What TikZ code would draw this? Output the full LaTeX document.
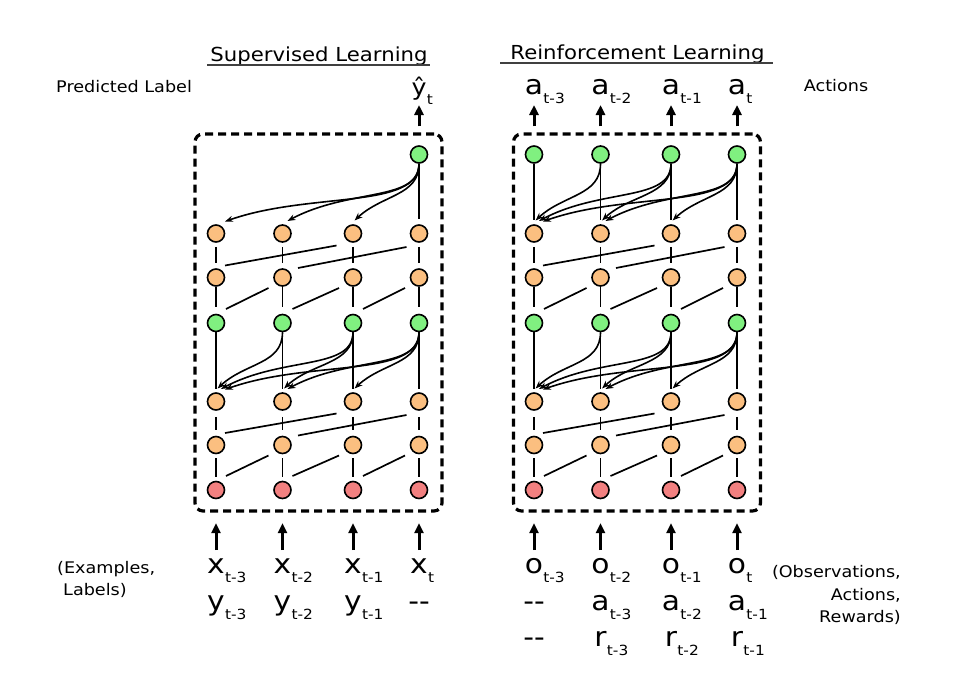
\documentclass[tikz,border=0pt]{standalone}
\usepackage{fontspec}
\setmainfont{DejaVu Sans}[FakeStretch=1.1]
\usetikzlibrary{arrows.meta}
\definecolor{ngreen}{RGB}{128,240,128}
\definecolor{norange}{RGB}{251,191,128}
\definecolor{nred}{RGB}{242,128,128}
\newcommand\bigsub[2]{#1\rlap{\kern0.3pt\raisebox{-9pt}{\fontsize{14}{14}\selectfont #2}}}
\begin{document}
\begin{tikzpicture}[x=1pt,y=-1pt,
  nodebase/.style={circle, draw, line width=1.6pt, minimum size=17pt, inner sep=0pt},
  gn/.style={nodebase, fill=ngreen},
  on/.style={nodebase, fill=norange},
  rn/.style={nodebase, fill=nred},
  conn/.style={line width=1.7pt},
  curv/.style={line width=1.6pt, -{Stealth[length=8pt,width=6pt]}},
  bigarrow/.style={line width=3pt, -{Triangle[length=10pt,width=9pt]}},
  dashbox/.style={draw, line width=3.2pt, dash pattern=on 8pt off 5pt, rounded corners=8pt,
    minimum width=247pt, minimum height=377pt, inner sep=0pt},
  lab/.style={font=\fontsize{16}{16}\selectfont, inner sep=0pt},
  ttl/.style={font=\fontsize{19.3}{19.3}\selectfont, inner sep=0pt, anchor=base},
  big/.style={font=\fontsize{27}{27}\selectfont, inner sep=0pt, anchor=base},
  uline/.style={line width=1.4pt, draw=black!75}
]
\useasboundingbox (0,0) rectangle (964,678);

% boxes
\node[dashbox] (boxL) at (318.5,322.5) {};
\node[dashbox] (boxR) at (637,322.5) {};

% neuron nodes
\foreach \P/\s in {L/0,R/318} {
  \foreach \c/\x in {1/216,2/282.5,3/353,4/419} {
    \node[on] (\P-2-\c) at (\x+\s,233.5) {};
    \node[on] (\P-3-\c) at (\x+\s,277.5) {};
    \node[gn] (\P-4-\c) at (\x+\s,323) {};
    \node[on] (\P-5-\c) at (\x+\s,401.5) {};
    \node[on] (\P-6-\c) at (\x+\s,445) {};
    \node[rn] (\P-7-\c) at (\x+\s,490) {};
  }
}
\node[gn] (L-1-4) at (419,154.5) {};
\foreach \c/\x in {1/534,2/600.5,3/671,4/737} {
  \node[gn] (R-1-\c) at (\x,154.5) {};
}

% vertical connections
\draw[conn, shorten >=5pt] (L-1-4) -- (L-2-4);
\foreach \c in {1,2,3,4} {
  \draw[conn, shorten >=4pt] (R-1-\c) -- (R-2-\c);
}
\foreach \P in {L,R} {
  \foreach \c in {1,2,3,4} {
    \draw[conn, shorten <=4pt, shorten >=5pt] (\P-2-\c) -- (\P-3-\c);
    \draw[conn, shorten <=0.5pt, shorten >=7pt] (\P-3-\c) -- (\P-4-\c);
    \draw[conn, shorten >=3pt] (\P-4-\c) -- (\P-5-\c);
    \draw[conn, shorten <=6pt, shorten >=6pt] (\P-5-\c) -- (\P-6-\c);
    \draw[conn, shorten <=4pt, shorten >=4pt] (\P-6-\c) -- (\P-7-\c);
  }
  % diagonal (skip) connections
  \foreach \lo/\up/\bo in {3/2/4, 6/5/7} {
    \draw[conn] ([shift={(9,-12)}]\P-\lo-1.center) -- ([shift={(-16.5,12)}]\P-\up-3.center);
    \draw[conn] ([shift={(15.5,-9.5)}]\P-\lo-2.center) -- ([shift={(-12.5,13.5)}]\P-\up-4.center);
    \foreach \c/\d in {1/2,2/3,3/4} {
      \draw[conn] ([shift={(10,-14)}]\P-\bo-\c.center) -- ([shift={(-14,10.5)}]\P-\lo-\d.center);
    }
  }
}

% curved connections
\foreach \j/\i/\a/\bx/\by/\tx/\ty in {2/1/32/28/-26/1.5/-13, 3/2/32/28/-26/1.5/-13, 4/3/32/28/-26/1.5/-13,
   3/1/38/62/-33/5/-12.5, 4/2/38/62/-33/5/-12.5, 4/1/46/85/-30/9/-12} {
  \draw[curv] (R-1-\j.south) .. controls +(0,\a) and +(\bx,\by) .. ([shift={(\tx,\ty)}]R-2-\i.center);
  \draw[curv] (L-4-\j.south) .. controls +(0,\a) and +(\bx,\by) .. ([shift={(\tx,\ty)}]L-5-\i.center);
  \draw[curv] (R-4-\j.south) .. controls +(0,\a) and +(\bx,\by) .. ([shift={(\tx,\ty)}]R-5-\i.center);
  \ifnum\j=4
    \draw[curv] (L-1-\j.south) .. controls +(0,\a) and +(\bx,\by) .. ([shift={(\tx,\ty)}]L-2-\i.center);
  \fi
}

% titles
\node[ttl] (slt) at (319,61) {Supervised Learning};
\draw[uline] ([shift={(-3,4)}]slt.base west) -- ([shift={(2,4)}]slt.base east);
\node[ttl] (rlt) at (637.5,59) {Reinforcement Learning};
\draw[uline] ([shift={(-10,4)}]rlt.base west) -- ([shift={(8,4)}]rlt.base east);

% side labels
\node[lab, anchor=base west] (pl) at (56,92) {Predicted Label};
\node[lab, anchor=base] (act) at (836,91) {Actions};
\node[lab, anchor=base west] (ex1) at (57,573) {(Examples,};
\node[lab, anchor=base west] (ex2) at (63,595) {Labels)};
\node[lab, anchor=base east] (ob1) at (901,577) {(Observations,};
\node[lab, anchor=base east] (ob2) at (901,600) {Actions,};
\node[lab, anchor=base east] (ob3) at (901,622) {Rewards)};

% outputs (top)
\node[font=\fontsize{23}{23}\selectfont, inner sep=0pt, anchor=base] (yhat) at (419,95) {\bigsub{ŷ}{t}};
\draw[bigarrow, shorten <=6pt] (boxL.north -| yhat) -- ([shift={(0,10)}]yhat.base);
\foreach \c/\x/\t in {1/534/t-3,2/600.5/t-2,3/671/t-1,4/737/t} {
  \node[big] (ta\c) at (\x,94) {\bigsub{a}{\t}};
  \draw[bigarrow, shorten <=6pt] (boxR.north -| ta\c) -- ([shift={(0,11)}]ta\c.base);
}

% inputs (bottom) - supervised
\foreach \c/\x/\t in {1/216/t-3,2/282.5/t-2,3/353/t-1,4/419/t} {
  \node[big] (xl\c) at (\x,573) {\bigsub{x}{\t}};
  \draw[bigarrow, shorten >=10.5pt] ([shift={(0,-23)}]xl\c.base) -- (xl\c |- boxL.south);
}
\foreach \c/\x/\t in {1/216/t-3,2/282.5/t-2,3/353/t-1} {
  \node[big] (yl\c) at (\x,610) {\bigsub{y}{\t}};
}
\node[big] (yl4) at (419,610) {-{}-};

% inputs (bottom) - reinforcement
\foreach \c/\x/\t in {1/534/t-3,2/600.5/t-2,3/671/t-1,4/737/t} {
  \node[big] (ol\c) at (\x,573) {\bigsub{o}{\t}};
  \draw[bigarrow, shorten >=10.5pt] ([shift={(0,-23)}]ol\c.base) -- (ol\c |- boxR.south);
}
\node[big] (al1) at (534,610) {-{}-};
\node[big] (rl1) at (534,646) {-{}-};
\foreach \c/\x/\t in {2/600.5/t-3,3/671/t-2,4/737/t-1} {
  \node[big] (al\c) at (\x,610) {\bigsub{a}{\t}};
  \node[big] (rl\c) at (\x,646) {\bigsub{r}{\t}};
}
\end{tikzpicture}
\end{document}
